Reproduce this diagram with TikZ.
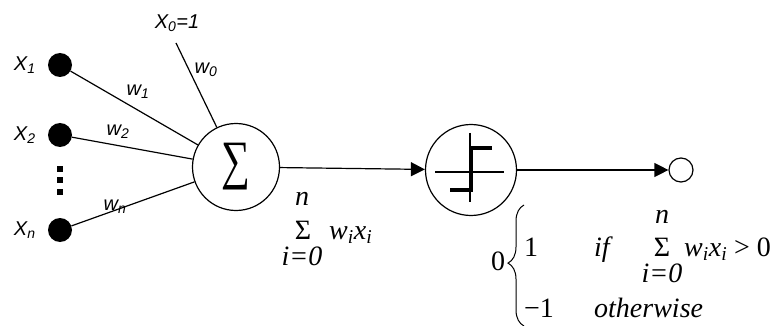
\documentclass[tikz,border=0pt]{standalone}
\usepackage{fontspec}
\setmainfont{Liberation Sans}
\newfontfamily\eqfont{Liberation Serif}
\usetikzlibrary{arrows.meta,positioning,decorations.pathreplacing}

\begin{document}
\begin{tikzpicture}[x=1pt, y=-1pt]
    % Define styles
    \tikzstyle{input} = [circle, fill=black, inner sep=0pt, minimum size=24pt]
    \tikzstyle{unit} = [circle, draw, line width=1.2pt, inner sep=0pt, minimum size=87pt]
    \tikzstyle{varlabel} = [font=\fontsize{20}{20}\selectfont\itshape, inner sep=0pt]
    \tikzstyle{eq} = [font=\eqfont\fontsize{28}{28}\selectfont\itshape, inner sep=0pt]
    \tikzstyle{eqrm} = [font=\eqfont\fontsize{28}{28}\selectfont, inner sep=0pt]
    \tikzstyle{line} = [draw, line width=1.2pt]
    \tikzstyle{arrow} = [draw, line width=1.2pt, -{Triangle[length=14pt,width=14pt]}]

    \useasboundingbox (0,0) rectangle (784,326);

    % Place nodes
    \node [input] (x1) at (60,65) {};
    \node [input] (x2) at (60,135) {};
    \node [input] (xn) at (60,230) {};
    \node [varlabel, left=12pt of x1] (x1lbl) {X\textsubscript{1}};
    \node [varlabel, left=12pt of x2] (x2lbl) {X\textsubscript{2}};
    \node [varlabel, left=12pt of xn] (xnlbl) {X\textsubscript{n}};
    \node [varlabel] (x0lbl) at (177,23) {X\textsubscript{0}=1};
    \coordinate (x0end) at (176,43);
    \foreach \y in {169,180,192}
        \fill (57,\y-3) rectangle +(6,6);

    \node [unit] (sum) at (236,167) {\eqfont\fontsize{54}{54}\selectfont\scalebox{0.75}[1]{∑}};
    \node [unit, minimum size=91pt] (step) at (471,170) {};
    \node [circle, draw, line width=1.2pt, inner sep=0pt, minimum size=24pt] (out) at (681,170) {};

    \node [varlabel] (w0) at (206,70) {w\textsubscript{0}};
    \node [varlabel] (w1) at (138,92) {w\textsubscript{1}};
    \node [varlabel] (w2) at (118,132) {w\textsubscript{2}};
    \node [varlabel] (wn) at (115,207) {w\textsubscript{n}};

    % weighted sum
    \node [eqrm, anchor=base] (sig1) at (303,239) {Σ};
    \node [eq, anchor=base] (n1) at (302,205) {n};
    \node [eq, anchor=base] (i1) at (302,265) {i=0};
    \node [eq, anchor=base west] (wx1) at (329,239) {w\textsubscript{i}x\textsubscript{i}};

    % output rule
    \node [eqrm] (zero) at (498,261) {0};
    \node [eqrm, anchor=base west] (one) at (524,256) {1};
    \node [eq, anchor=base west] (if) at (594,256) {if};
    \node [eqrm, anchor=base] (sig2) at (662,256) {Σ};
    \node [eq, anchor=base] (n2) at (662,223) {n};
    \node [eq, anchor=base] (i2) at (662,282) {i=0};
    \node [eq, anchor=base west] (wx2) at (684,256) {w\textsubscript{i}x\textsubscript{i} \upshape\textgreater\ 0};
    \node [eqrm, anchor=base west] (minus) at (524,317) {−1};
    \node [eq, anchor=base west] (other) at (594,317) {otherwise};
    \coordinate (bracetop) at (524,205);
    \coordinate (bracebot) at (524,326);

    % Step function inside the unit
    \begin{scope}[shift={(step.center)}]
        \draw [line width=1.2pt] (-36,2) -- (33,2);
        \draw [line width=1.2pt] (-1,-37) -- (-1,32);
        \draw [line width=4pt] (21,-22) -- (0,-22) -- (0,20) -- (-21,20);
    \end{scope}

    % Draw edges
    \path [line] (x0end) -- (sum);
    \path [line] (x1) -- (sum);
    \path [line] (x2) -- (sum);
    \path [line] (xn) -- (sum);
    \path [arrow] (sum) -- (step);
    \path [arrow] (step) -- (out);
    \draw [line width=1pt, decorate, decoration={brace, amplitude=16pt, aspect=0.52}] (bracebot) -- (bracetop);
\end{tikzpicture}
\end{document}
